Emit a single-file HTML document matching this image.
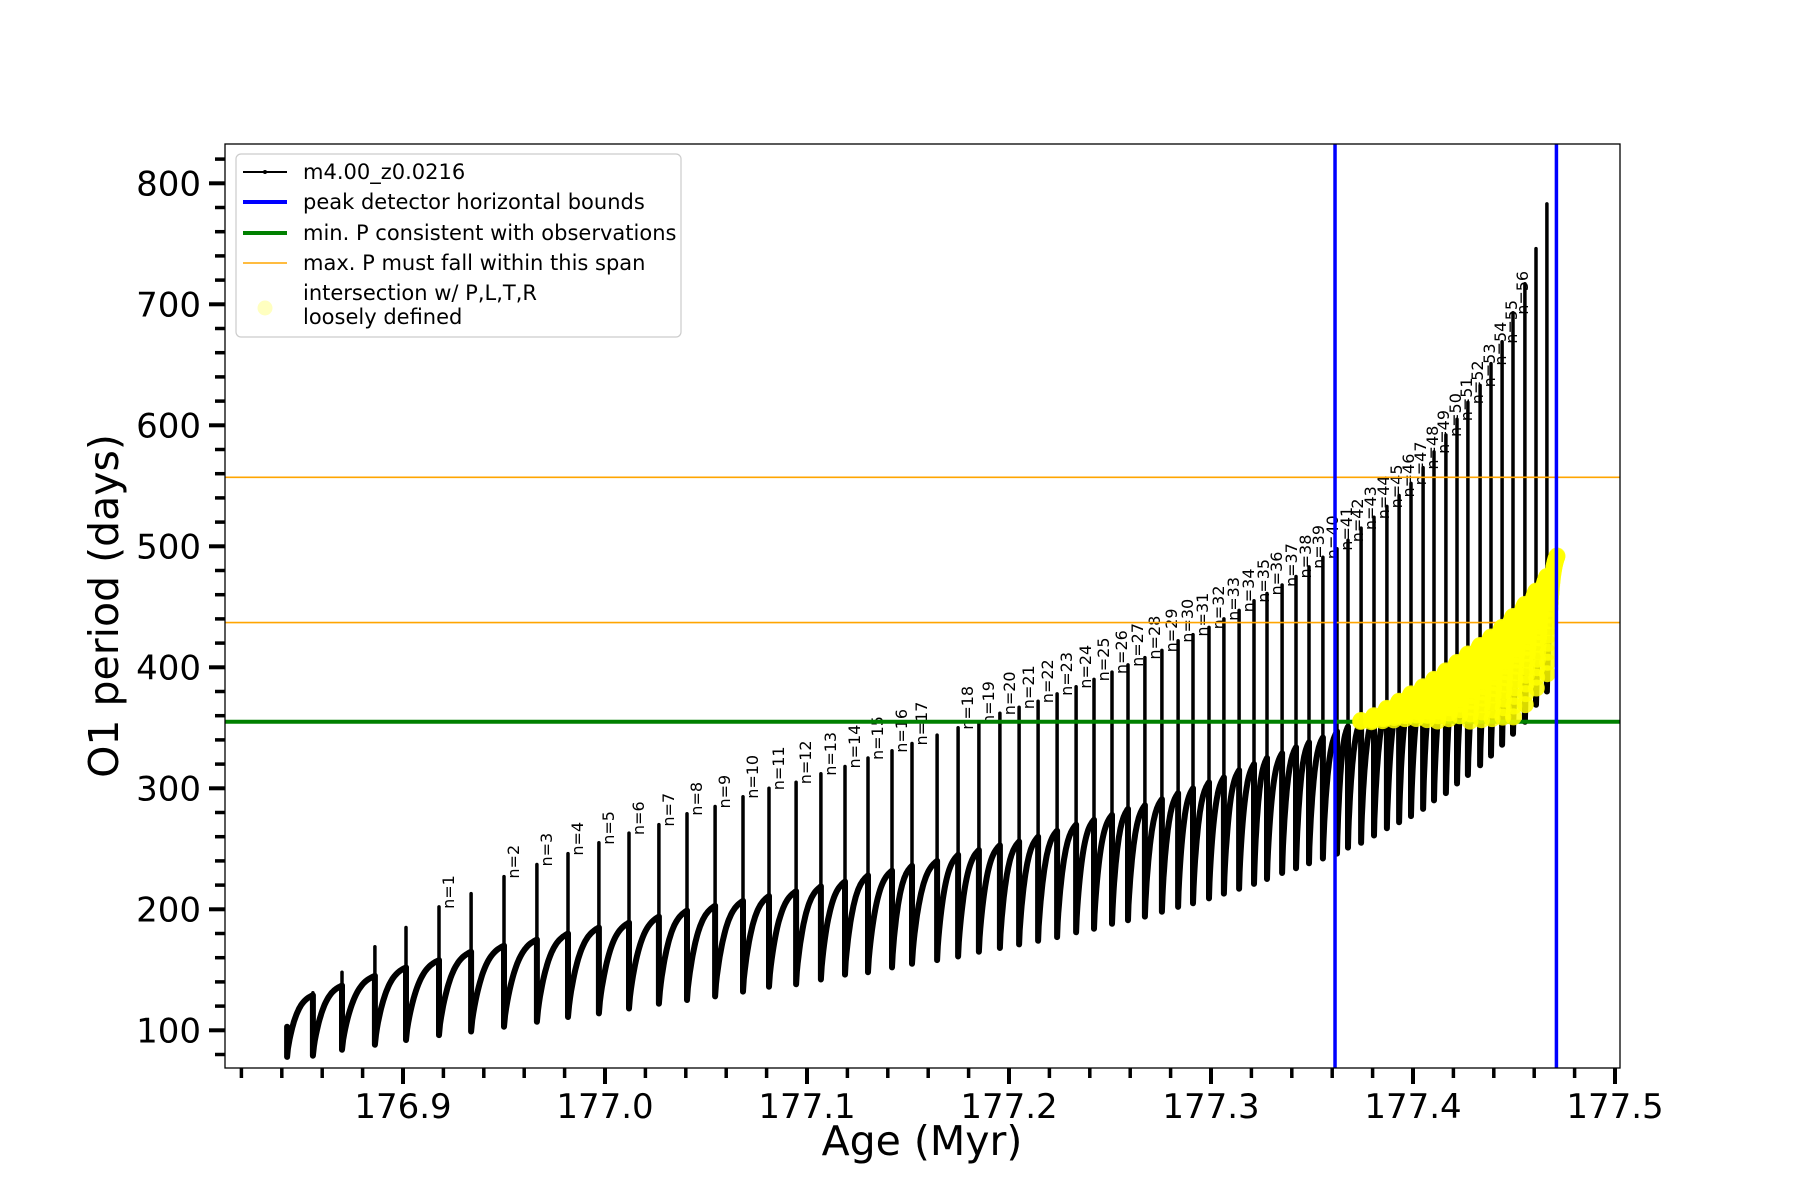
<!DOCTYPE html>
<html>
<head>
<meta charset="utf-8">
<style>
  html,body{margin:0;padding:0;background:#fff;}
  svg{display:block;font-family:"DejaVu Sans","Liberation Sans",sans-serif;}
</style>
</head>
<body>
<svg id="chart" width="1800" height="1200" viewBox="0 0 1800 1200" xmlns="http://www.w3.org/2000/svg">
  <rect x="0" y="0" width="1800" height="1200" fill="#fff"/>
  <g id="plot"></g>
  <g id="axes"></g>
  <text x="922" y="1155" font-size="41" text-anchor="middle" fill="#000">Age (Myr)</text>
  <text transform="translate(118,606) rotate(-90)" font-size="41" text-anchor="middle" fill="#000">O1 period (days)</text>
  <g id="legend">
    <rect x="236" y="154" width="445" height="183" rx="5" ry="5" fill="#fff" fill-opacity="0.85" stroke="#cccccc" stroke-width="1.2"/>
    <g>
      <line x1="243" y1="172" x2="287" y2="172" stroke="#000" stroke-width="2"/>
      <circle cx="265" cy="172" r="2" fill="#000"/>
      <text x="303" y="179" font-size="21" fill="#000">m4.00_z0.0216</text>
    </g>
    <g>
      <line x1="243" y1="202" x2="287" y2="202" stroke="#0000ff" stroke-width="4"/>
      <text x="303" y="209" font-size="21" fill="#000">peak detector horizontal bounds</text>
    </g>
    <g>
      <line x1="243" y1="233" x2="287" y2="233" stroke="#008000" stroke-width="4"/>
      <text x="303" y="240" font-size="21" fill="#000">min. P consistent with observations</text>
    </g>
    <g>
      <line x1="243" y1="263" x2="287" y2="263" stroke="#ffa500" stroke-width="1.5"/>
      <text x="303" y="270" font-size="21" fill="#000">max. P must fall within this span</text>
    </g>
    <g>
      <circle cx="265" cy="308" r="7.5" fill="#ffffc0"/>
      <text x="303" y="300" font-size="21" fill="#000">intersection w/ P,L,T,R</text>
      <text x="303" y="324" font-size="21" fill="#000">loosely defined</text>
    </g>
  </g>
</svg>
<script>
// ---- data ----
const ages = [176.8426,176.8554,176.8698,176.8861,176.9015,176.9178,176.9337,176.9500,176.9663,176.9817,
  176.9970,177.0119,177.0267,177.0406,177.0545,177.0683,177.0812,177.0946,177.1069,177.1188,
  177.1302,177.1421,177.1520,177.1644,177.1748,177.1851,177.1955,177.2050,177.2144,177.2238,
  177.2332,177.2421,177.2510,177.2589,177.2673,177.2757,177.2837,177.2911,177.2990,177.3064,
  177.3139,177.3213,177.3277,177.3352,177.3421,177.3485,177.3554,177.3624,177.3678,177.3743,
  177.3807,177.3871,177.3931,177.3990,177.4050,177.4104,177.4163,177.4218,177.4272,177.4332,
  177.4386,177.4441,177.4495,177.4554,177.4609,177.4663,177.4713];
const plateaus = [103,129,137,145,152,158,165,170,175,180,
  185,189,194,199,203,207,211,215,219,223,
  228,232,236,240,245,249,253,256,260,265,
  270,274,278,283,286,291,296,300,305,309,
  315,320,325,329,334,338,342,347,351,356,
  360,366,372,378,384,390,397,404,411,418,
  425,433,442,452,463,475,492];
const peaks = [103,131,148,169,185,202,213,227,237,246,
  255,263,270,279,285,293,300,305,312,318,
  325,331,337,344,350,354,362,367,372,378,
  384,390,396,402,408,414,422,427,433,440,
  447,455,461,468,475,483,491,498,505,515,
  524,533,542,552,565,578,592,605,619,633,
  651,669,693,717,746,783,null];
const troughs = [78,79,84,88,92,96,99,103,107,111,
  114,118,122,125,128,132,136,138,142,146,
  148,152,155,158,161,165,168,171,174,177,
  181,184,188,191,194,198,202,205,209,213,
  217,221,225,230,234,238,242,246,251,255,
  261,267,272,277,283,290,296,304,311,319,
  327,336,345,355,369,380,null];
const labelCycles = [5,7,8,9,10,11,12,13,14,15,16,17,18,19,20,21,22,
  24,25,26,27,28,29,30,31,32,33,34,35,36,37,38,39,40,41,42,43,44,45,46,47,48,49,50,51,52,53,54,55,56,57,58,59,60,61,62];
const labelNumbers = labelCycles.map((c,i)=>i+1);
const xTicks = [176.9,177.0,177.1,177.2,177.3,177.4,177.5];
const xTickLabels = ["176.9","177.0","177.1","177.2","177.3","177.4","177.5"];
const yTicks = [100,200,300,400,500,600,700,800];
const yTickLabels = ["100","200","300","400","500","600","700","800"];
const blueBounds = [177.3614,177.4710];
const greenLevel = [355];
const orangeLevels = [437,557];

// ---- axis functions ----
const X = a => 1413 + (a - 177.4) * 2020;
const Y = v => 183.3 + (800 - v) * 1.21;
const L = 225, R = 1620, T = 144, B = 1068;
const NS = "http://www.w3.org/2000/svg";
function mk(tag, attrs, parent){ const e=document.createElementNS(NS,tag); for(const k in attrs) e.setAttribute(k,attrs[k]); parent.appendChild(e); return e; }
const plot = document.getElementById('plot');
const axes = document.getElementById('axes');

const clip = mk('clipPath',{id:'clipArea'},plot);
mk('rect',{x:L,y:T,width:R-L,height:B-T},clip);
const g = mk('g',{'clip-path':'url(#clipArea)'},plot);

const shape = t => 0.4*Math.sqrt(t) + 0.6*(1-Math.pow(1-t,3));

let dCurve = '';
let dSpike = '';
const yellowPts = [];
for (let k=0;k<ages.length-1;k++){
  const x = X(ages[k]);
  dSpike += `M${x.toFixed(1)},${Y(peaks[k]).toFixed(1)}L${x.toFixed(1)},${Y(troughs[k]).toFixed(1)}`;
  dCurve += `M${x.toFixed(1)},${Y(plateaus[k]).toFixed(1)}L${x.toFixed(1)},${Y(troughs[k]).toFixed(1)}`;
  const n = 30;
  for (let i=1;i<=n;i++){
    const t=i/n;
    const a = ages[k] + (ages[k+1]-ages[k])*t;
    const v = troughs[k] + (plateaus[k+1]-troughs[k])*shape(t);
    dCurve += `L${X(a).toFixed(1)},${Y(v).toFixed(1)}`;
    if (v >= greenLevel[0] && a >= blueBounds[0]) yellowPts.push([a,v]);
  }
}
const spikes = mk('path',{d:dSpike,fill:'none',stroke:'#000','stroke-width':3.5,'stroke-linecap':'round'},g);


const series = mk('path',{d:dCurve,fill:'none',stroke:'#000','stroke-width':6,'stroke-linejoin':'round','stroke-linecap':'round'},g);



labelCycles.forEach((c,i)=>{
  const t = mk('text',{transform:`translate(${(X(ages[c])+15).toFixed(1)},${(Y(peaks[c])+2).toFixed(1)}) rotate(-90)`,'font-size':16,fill:'#000'},g);
  t.textContent = 'n=' + labelNumbers[i];
  
  
});

orangeLevels.forEach(v=>{
  const l = mk('line',{x1:L,x2:R,y1:Y(v),y2:Y(v),stroke:'#ffa500','stroke-width':1.6},g);
  
  
});
const gl = mk('line',{x1:L,x2:R,y1:Y(greenLevel[0]),y2:Y(greenLevel[0]),stroke:'#008000','stroke-width':4},g);



const yg = mk('g',{},g);


yellowPts.forEach(p=>{
  const c = mk('circle',{cx:X(p[0]).toFixed(1),cy:Y(p[1]).toFixed(1),r:8.5,fill:'#ffff00','fill-opacity':0.85},yg);
  
  
});

blueBounds.forEach(a=>{
  const l = mk('line',{x1:X(a),x2:X(a),y1:T,y2:B,stroke:'#0000ff','stroke-width':3.5},g);
  
  
});

const frame = mk('rect',{x:L,y:T,width:R-L,height:B-T,fill:'none',stroke:'#000','stroke-width':1.3},axes);



for (let m=0;m<=35;m++){
  const a = 176.82 + m*0.02;
  const x = X(a);
  if (x < L-1 || x > R+1) continue;
  const major = xTicks.some(t=>Math.abs(t-a)<1e-6);
  const tk = mk('line',{x1:x,x2:x,y1:B,y2:B+(major?16:10),stroke:'#000','stroke-width':major?4:3.5},axes);
  
  
}
xTicks.forEach((a,i)=>{
  const t = mk('text',{x:X(a),y:1118,'font-size':34,'text-anchor':'middle',fill:'#000'},axes);
  t.textContent = xTickLabels[i];
  
  
});
for (let v=80; v<=820; v+=20){
  const y = Y(v);
  const major = yTicks.indexOf(v) >= 0;
  const tk = mk('line',{x1:L,x2:L-(major?16:10),y1:y,y2:y,stroke:'#000','stroke-width':major?4:3.5},axes);
  
  
}
yTicks.forEach((v,i)=>{
  const t = mk('text',{x:201,y:Y(v)+12,'font-size':34,'text-anchor':'end',fill:'#000'},axes);
  t.textContent = yTickLabels[i];
  
  
});
</script>
</body>
</html>
